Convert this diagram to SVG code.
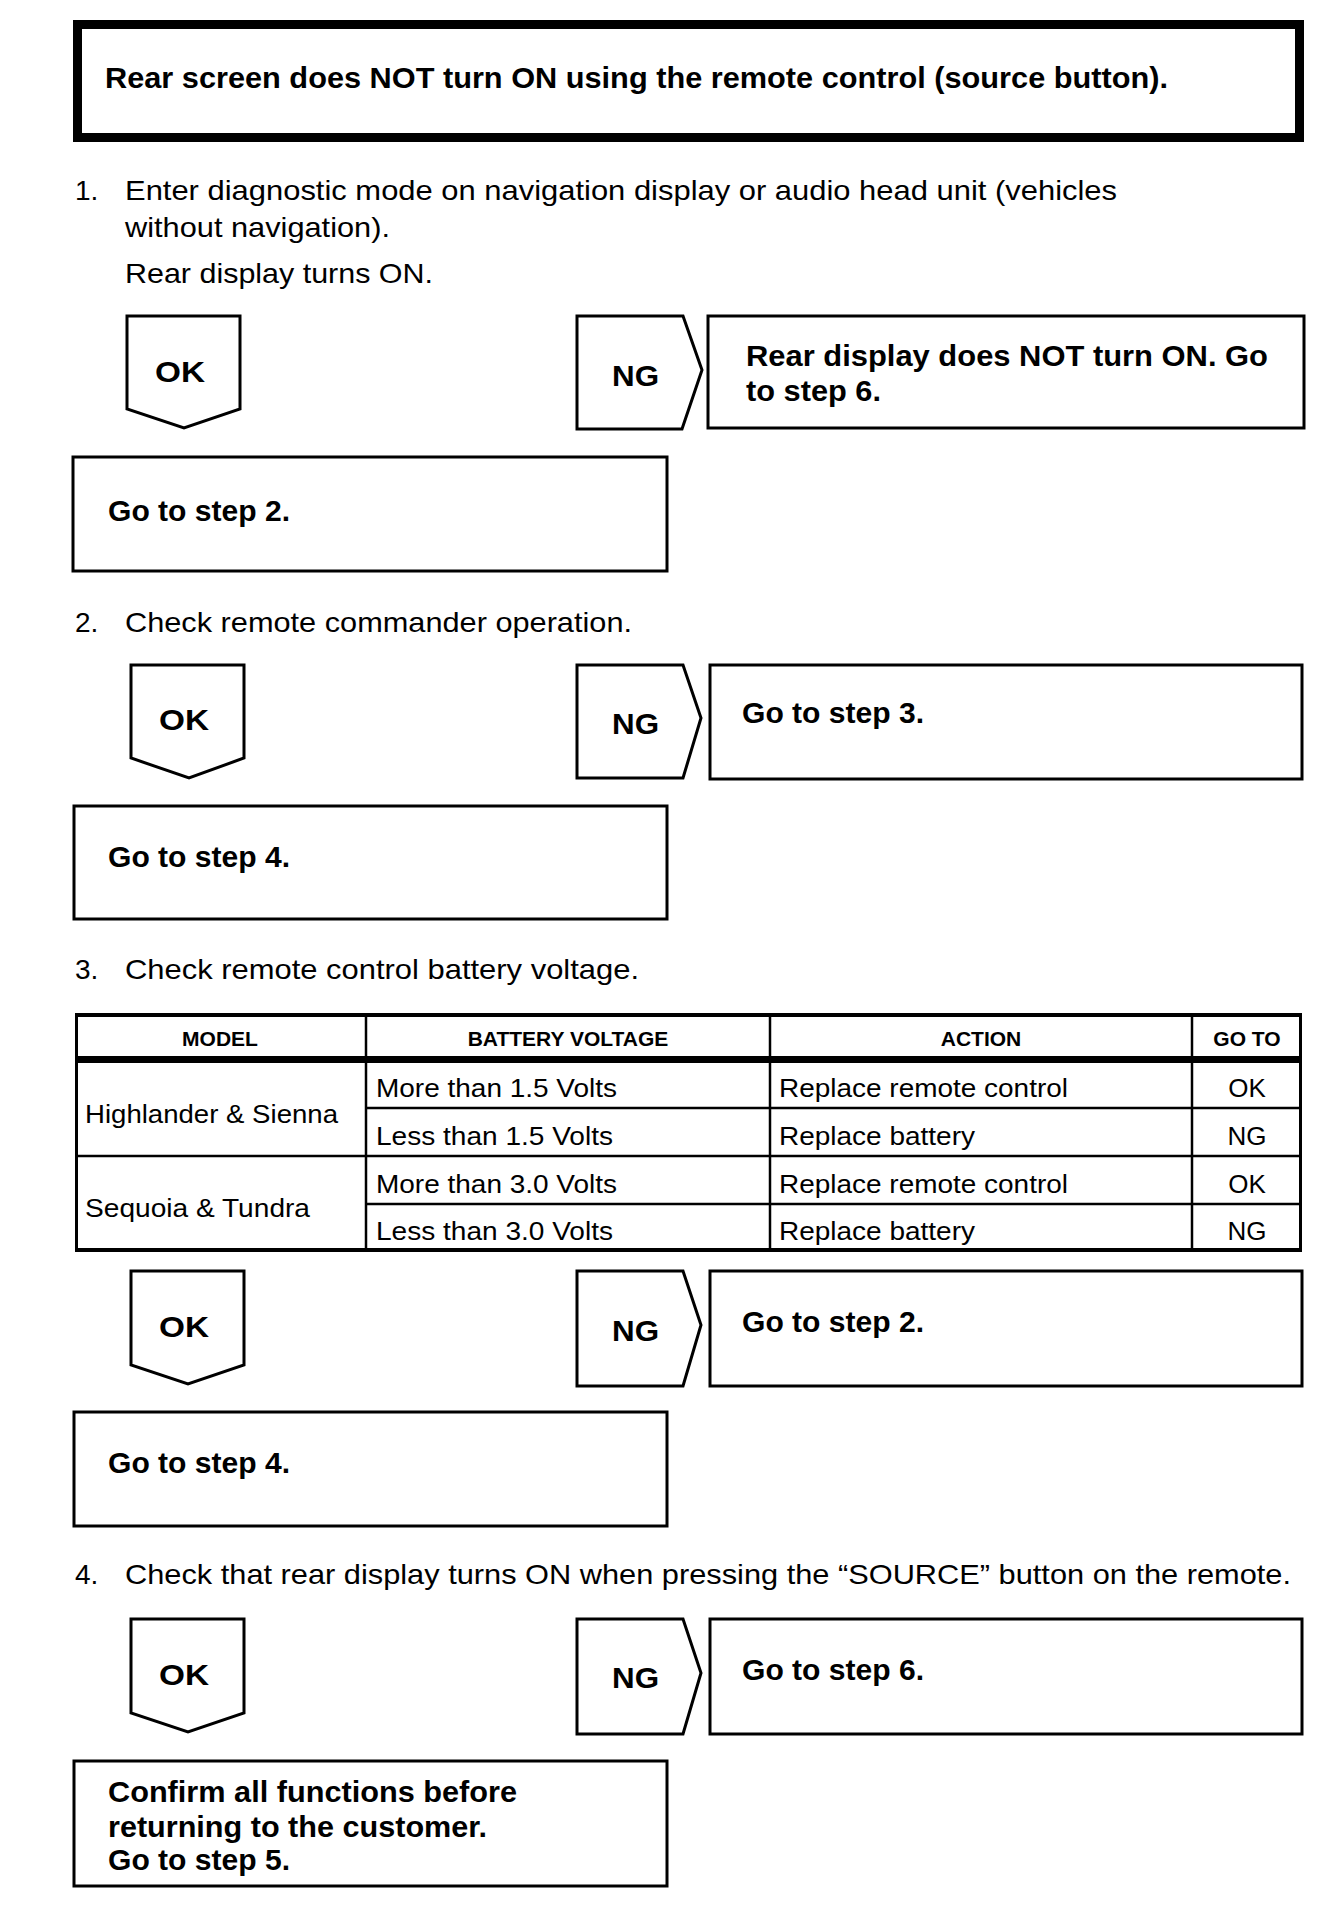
<svg xmlns="http://www.w3.org/2000/svg" width="1344" height="1906" viewBox="0 0 1344 1906">
<style>
.bg{fill:#fff}
.box{fill:#fff;stroke:#000;stroke-width:3;stroke-linejoin:miter}
.tbox{fill:#fff;stroke:#000;stroke-width:9}
.ln{stroke:#000;stroke-width:2.5;fill:none}
.b{font-family:"Liberation Sans",Arial,sans-serif;font-weight:bold;font-size:30px;fill:#000}
.r{font-family:"Liberation Sans",Arial,sans-serif;font-size:28px;fill:#000}
.t{font-family:"Liberation Sans",Arial,sans-serif;font-size:26px;fill:#000}
.h{font-family:"Liberation Sans",Arial,sans-serif;font-weight:bold;font-size:21px;fill:#000;text-anchor:middle}
.c{text-anchor:middle}
</style>
<rect class="bg" x="0" y="0" width="1344" height="1906"/>
<g id="connectors"/>
<g id="title">
<rect class="tbox" x="77.5" y="24.5" width="1222" height="113"/>
<text class="b" x="105" y="88" textLength="1063" lengthAdjust="spacingAndGlyphs">Rear screen does NOT turn ON using the remote control (source button).</text>
</g>
<g id="step1-text">
<text class="r" x="75" y="200">1.</text>
<text class="r" x="125" y="200" textLength="992" lengthAdjust="spacingAndGlyphs">Enter diagnostic mode on navigation display or audio head unit (vehicles</text>
<text class="r" x="125" y="237" textLength="265" lengthAdjust="spacingAndGlyphs">without navigation).</text>
<text class="r" x="125" y="283" textLength="308" lengthAdjust="spacingAndGlyphs">Rear display turns ON.</text>
</g>
<g id="step1-ok">
<polygon class="box" points="127,316 240,316 240,409 184,428 127,409"/>
<text class="b" x="155" y="382" textLength="50" lengthAdjust="spacingAndGlyphs">OK</text>
</g>
<g id="step1-ng">
<polygon class="box" points="577,316 683,316 702,370 682,429 577,429"/>
<text class="b" x="612" y="386" textLength="47" lengthAdjust="spacingAndGlyphs">NG</text>
</g>
<g id="step1-ng-result">
<rect class="box" x="708" y="316" width="596" height="112"/>
<text class="b" x="746" y="366" textLength="522" lengthAdjust="spacingAndGlyphs">Rear display does NOT turn ON. Go</text>
<text class="b" x="746" y="401" textLength="135" lengthAdjust="spacingAndGlyphs">to step 6.</text>
</g>
<g id="step1-ok-result">
<rect class="box" x="73" y="457" width="594" height="114"/>
<text class="b" x="108" y="521" textLength="182" lengthAdjust="spacingAndGlyphs">Go to step 2.</text>
</g>
<g id="step2-text">
<text class="r" x="75" y="632">2.</text>
<text class="r" x="125" y="632" textLength="507" lengthAdjust="spacingAndGlyphs">Check remote commander operation.</text>
</g>
<g id="step2-ok">
<polygon class="box" points="131,665 244,665 244,758 189,778 131,758"/>
<text class="b" x="159" y="730" textLength="50" lengthAdjust="spacingAndGlyphs">OK</text>
</g>
<g id="step2-ng">
<polygon class="box" points="577,665 683,665 701,718 683,778 577,778"/>
<text class="b" x="612" y="734" textLength="47" lengthAdjust="spacingAndGlyphs">NG</text>
</g>
<g id="step2-ng-result">
<rect class="box" x="710" y="665" width="592" height="114"/>
<text class="b" x="742" y="723" textLength="182" lengthAdjust="spacingAndGlyphs">Go to step 3.</text>
</g>
<g id="step2-ok-result">
<rect class="box" x="74" y="806" width="593" height="113"/>
<text class="b" x="108" y="867" textLength="182" lengthAdjust="spacingAndGlyphs">Go to step 4.</text>
</g>
<g id="step3-text">
<text class="r" x="75" y="979">3.</text>
<text class="r" x="125" y="979" textLength="514" lengthAdjust="spacingAndGlyphs">Check remote control battery voltage.</text>
</g>
<g id="table">
<rect x="76.5" y="1015" width="1224" height="235" fill="#fff" stroke="#000" stroke-width="3"/>
<rect x="75" y="1013" width="1227" height="4" fill="#000"/>
<rect x="75" y="1248" width="1227" height="4" fill="#000"/>
<rect x="75" y="1056" width="1227" height="7" fill="#000"/>
<line class="ln" x1="366" y1="1013" x2="366" y2="1251"/>
<line class="ln" x1="770" y1="1013" x2="770" y2="1251"/>
<line class="ln" x1="1192" y1="1013" x2="1192" y2="1251"/>
<line class="ln" x1="366" y1="1108" x2="1302" y2="1108"/>
<line class="ln" x1="75" y1="1156" x2="1302" y2="1156"/>
<line class="ln" x1="366" y1="1204" x2="1302" y2="1204"/>
<text class="h" x="220" y="1046">MODEL</text>
<text class="h" x="568" y="1046">BATTERY VOLTAGE</text>
<text class="h" x="981" y="1046">ACTION</text>
<text class="h" x="1247" y="1046">GO TO</text>
<text class="t" x="85" y="1123" textLength="253" lengthAdjust="spacingAndGlyphs">Highlander &amp; Sienna</text>
<text class="t" x="85" y="1217" textLength="225" lengthAdjust="spacingAndGlyphs">Sequoia &amp; Tundra</text>
<text class="t" x="376" y="1097" textLength="241" lengthAdjust="spacingAndGlyphs">More than 1.5 Volts</text>
<text class="t" x="376" y="1145" textLength="237" lengthAdjust="spacingAndGlyphs">Less than 1.5 Volts</text>
<text class="t" x="376" y="1193" textLength="241" lengthAdjust="spacingAndGlyphs">More than 3.0 Volts</text>
<text class="t" x="376" y="1240" textLength="237" lengthAdjust="spacingAndGlyphs">Less than 3.0 Volts</text>
<text class="t" x="779" y="1097" textLength="289" lengthAdjust="spacingAndGlyphs">Replace remote control</text>
<text class="t" x="779" y="1145" textLength="196" lengthAdjust="spacingAndGlyphs">Replace battery</text>
<text class="t" x="779" y="1193" textLength="289" lengthAdjust="spacingAndGlyphs">Replace remote control</text>
<text class="t" x="779" y="1240" textLength="196" lengthAdjust="spacingAndGlyphs">Replace battery</text>
<text class="t c" x="1247" y="1097">OK</text>
<text class="t c" x="1247" y="1145">NG</text>
<text class="t c" x="1247" y="1193">OK</text>
<text class="t c" x="1247" y="1240">NG</text>
</g>
<g id="step3-ok">
<polygon class="box" points="131,1271 244,1271 244,1365 188,1384 131,1365"/>
<text class="b" x="159" y="1337" textLength="50" lengthAdjust="spacingAndGlyphs">OK</text>
</g>
<g id="step3-ng">
<polygon class="box" points="577,1271 683,1271 701,1325 683,1386 577,1386"/>
<text class="b" x="612" y="1341" textLength="47" lengthAdjust="spacingAndGlyphs">NG</text>
</g>
<g id="step3-ng-result">
<rect class="box" x="710" y="1271" width="592" height="115"/>
<text class="b" x="742" y="1332" textLength="182" lengthAdjust="spacingAndGlyphs">Go to step 2.</text>
</g>
<g id="step3-ok-result">
<rect class="box" x="74" y="1412" width="593" height="114"/>
<text class="b" x="108" y="1473" textLength="182" lengthAdjust="spacingAndGlyphs">Go to step 4.</text>
</g>
<g id="step4-text">
<text class="r" x="75" y="1584">4.</text>
<text class="r" x="125" y="1584" textLength="1166" lengthAdjust="spacingAndGlyphs">Check that rear display turns ON when pressing the “SOURCE” button on the remote.</text>
</g>
<g id="step4-ok">
<polygon class="box" points="131,1619 244,1619 244,1713 188,1732 131,1713"/>
<text class="b" x="159" y="1685" textLength="50" lengthAdjust="spacingAndGlyphs">OK</text>
</g>
<g id="step4-ng">
<polygon class="box" points="577,1619 683,1619 701,1673 683,1734 577,1734"/>
<text class="b" x="612" y="1688" textLength="47" lengthAdjust="spacingAndGlyphs">NG</text>
</g>
<g id="step4-ng-result">
<rect class="box" x="710" y="1619" width="592" height="115"/>
<text class="b" x="742" y="1680" textLength="182" lengthAdjust="spacingAndGlyphs">Go to step 6.</text>
</g>
<g id="step4-ok-result">
<rect class="box" x="74" y="1761" width="593" height="125"/>
<text class="b" x="108" y="1802" textLength="409" lengthAdjust="spacingAndGlyphs">Confirm all functions before</text>
<text class="b" x="108" y="1837" textLength="379" lengthAdjust="spacingAndGlyphs">returning to the customer.</text>
<text class="b" x="108" y="1870" textLength="182" lengthAdjust="spacingAndGlyphs">Go to step 5.</text>
</g>
</svg>
